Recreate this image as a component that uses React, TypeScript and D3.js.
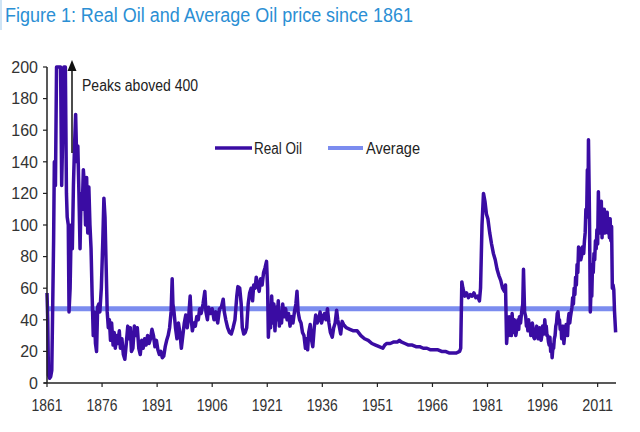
import React from "react";
import * as d3 from "d3";

const years: number[] = [
  1861.0, 1861.2, 1861.4, 1861.7, 1862.0, 1862.3, 1862.5, 1862.8, 1863.0, 1863.3, 1863.6, 1863.9,
  1864.3, 1864.7, 1865.0, 1865.3, 1865.6, 1866.0, 1866.3, 1866.5, 1866.8, 1867.0, 1867.3, 1867.6,
  1867.9, 1868.2, 1868.5, 1868.8, 1869.1, 1869.4, 1869.7, 1870.0, 1870.3, 1870.6, 1870.9, 1871.2,
  1871.5, 1871.8, 1872.1, 1872.4, 1872.7, 1873.0, 1873.3, 1873.6, 1873.9, 1874.2, 1874.5, 1874.8,
  1875.1, 1875.4, 1875.8, 1876.2, 1876.5, 1876.8, 1877.1, 1877.4, 1877.7, 1878.0, 1878.3, 1878.6,
  1879.0, 1879.3, 1879.6, 1880.0, 1880.3, 1880.7, 1881.0, 1881.4, 1881.8, 1882.2, 1882.6, 1883.0,
  1883.3, 1883.7, 1884.0, 1884.4, 1884.8, 1885.2, 1885.6, 1886.0, 1886.4, 1886.8, 1887.2, 1887.6,
  1888.0, 1888.4, 1888.8, 1889.2, 1889.6, 1890.0, 1890.4, 1890.8, 1891.2, 1891.6, 1892.0, 1892.4,
  1892.8, 1893.2, 1893.6, 1894.0, 1894.4, 1894.8, 1895.1, 1895.3, 1895.6, 1896.0, 1896.4, 1896.8,
  1897.2, 1897.6, 1898.0, 1898.4, 1898.8, 1899.2, 1899.6, 1900.0, 1900.3, 1900.6, 1901.0, 1901.4,
  1901.8, 1902.2, 1902.6, 1903.0, 1903.5, 1904.0, 1904.3, 1904.7, 1905.0, 1905.5, 1906.0, 1906.5,
  1907.0, 1907.5, 1908.0, 1908.5, 1909.0, 1909.3, 1909.7, 1910.2, 1910.7, 1911.2, 1911.7, 1912.2,
  1912.7, 1913.0, 1913.5, 1913.9, 1914.2, 1914.6, 1915.0, 1915.4, 1915.8, 1916.2, 1916.6, 1917.0,
  1917.3, 1917.7, 1918.0, 1918.4, 1918.8, 1919.2, 1919.6, 1920.0, 1920.4, 1920.8, 1921.1, 1921.3,
  1921.6, 1921.9, 1922.2, 1922.5, 1922.8, 1923.1, 1923.4, 1923.7, 1924.0, 1924.3, 1924.6, 1924.9,
  1925.2, 1925.6, 1926.0, 1926.4, 1926.8, 1927.2, 1927.6, 1928.0, 1928.4, 1928.8, 1929.1, 1929.4,
  1929.8, 1930.2, 1930.6, 1931.0, 1931.4, 1931.7, 1932.0, 1932.3, 1932.7, 1933.0, 1933.4, 1933.8,
  1934.2, 1934.6, 1935.0, 1935.4, 1935.8, 1936.2, 1936.6, 1937.0, 1937.4, 1937.8, 1938.2, 1938.7,
  1939.1, 1939.5, 1939.9, 1940.2, 1940.6, 1941.0, 1941.4, 1941.8, 1942.5, 1943.5, 1944.5, 1945.5,
  1946.5, 1947.5, 1948.5, 1949.5, 1950.5, 1951.5, 1952.5, 1953.0, 1953.5, 1954.5, 1955.5, 1956.5,
  1957.0, 1957.5, 1958.5, 1959.5, 1960.5, 1961.5, 1962.5, 1963.5, 1964.5, 1965.5, 1966.5, 1967.5,
  1968.5, 1969.5, 1970.5, 1971.5, 1972.5, 1973.4, 1973.7, 1974.0, 1974.3, 1974.8, 1975.3, 1975.8,
  1976.3, 1976.8, 1977.3, 1977.8, 1978.3, 1978.8, 1979.1, 1979.5, 1979.9, 1980.3, 1980.7, 1981.1,
  1981.6, 1982.1, 1982.6, 1983.1, 1983.6, 1984.1, 1984.6, 1985.1, 1985.6, 1985.9, 1986.2, 1986.5,
  1986.7, 1986.9, 1987.1, 1987.3, 1987.5, 1987.7, 1987.9, 1988.1, 1988.3, 1988.5, 1988.7, 1988.9,
  1989.1, 1989.3, 1989.5, 1989.7, 1990.0, 1990.3, 1990.6, 1990.8, 1991.1, 1991.4, 1991.6, 1991.8,
  1992.0, 1992.2, 1992.4, 1992.6, 1992.8, 1993.0, 1993.2, 1993.4, 1993.6, 1993.8, 1994.0, 1994.2,
  1994.4, 1994.6, 1994.8, 1995.0, 1995.2, 1995.4, 1995.6, 1995.8, 1996.0, 1996.2, 1996.4, 1996.6,
  1996.8, 1997.0, 1997.2, 1997.4, 1997.6, 1997.8, 1998.0, 1998.2, 1998.4, 1998.6, 1998.8, 1999.0,
  1999.2, 1999.4, 1999.6, 1999.8, 2000.0, 2000.2, 2000.4, 2000.6, 2000.8, 2001.0, 2001.2, 2001.4,
  2001.6, 2001.8, 2002.0, 2002.2, 2002.4, 2002.6, 2002.8, 2003.0, 2003.2, 2003.4, 2003.6, 2003.8,
  2004.0, 2004.2, 2004.4, 2004.6, 2004.8, 2005.0, 2005.2, 2005.4, 2005.6, 2005.8, 2006.0, 2006.2,
  2006.4, 2006.6, 2006.8, 2007.0, 2007.2, 2007.4, 2007.6, 2007.8, 2008.0, 2008.2, 2008.4, 2008.5,
  2008.7, 2008.8, 2009.0, 2009.2, 2009.4, 2009.6, 2009.8, 2010.0, 2010.2, 2010.4, 2010.6, 2010.8,
  2011.0, 2011.2, 2011.4, 2011.6, 2011.8, 2012.0, 2012.2, 2012.4, 2012.6, 2012.8, 2013.0, 2013.2,
  2013.4, 2013.6, 2013.8, 2014.0, 2014.2, 2014.4, 2014.6, 2014.8, 2015.0, 2015.2, 2015.4, 2015.6,
  2015.9,
];

const realOil: number[] = [
  57, 40, 5, 3, 4, 8, 40, 90, 140, 125, 210, 420,
  460, 300, 125, 160, 380, 430, 120, 105, 100, 45, 60, 100,
  85, 125, 150, 170, 140, 150, 120, 85, 120, 110, 135, 125,
  100, 130, 95, 124, 100, 85, 55, 30, 45, 25, 20, 48,
  50, 45, 60, 90, 117, 105, 75, 45, 35, 40, 27, 38,
  24, 32, 22, 30, 25, 33, 22, 28, 18, 15, 25, 36,
  28, 35, 20, 22, 36, 30, 35, 22, 18, 27, 22, 28,
  24, 30, 25, 28, 34, 30, 23, 27, 21, 18, 20, 16,
  17, 23, 27, 30, 35, 45, 66, 50, 45, 35, 28, 38,
  32, 22, 30, 38, 43, 35, 42, 55, 40, 33, 38, 36,
  42, 40, 47, 44, 50, 58, 45, 40, 48, 44, 47, 40,
  45, 38, 47, 48, 53, 45, 40, 35, 32, 31, 35, 40,
  55, 61, 60, 50, 35, 31, 32, 35, 50, 57, 60, 52,
  62, 60, 67, 62, 58, 66, 62, 70, 73, 77, 60, 29,
  45, 35, 55, 38, 50, 33, 48, 40, 52, 36, 45, 38,
  50, 42, 47, 40, 44, 36, 42, 38, 45, 50, 58, 45,
  40, 38, 32, 30, 22, 28, 21, 32, 37, 28, 23, 35,
  43, 38, 40, 45, 38, 42, 44, 40, 47, 38, 32, 29,
  35, 38, 46, 40, 36, 31, 39, 37, 35, 34, 33, 33,
  30, 28, 27, 25, 24, 23, 22, 24, 25, 25, 26, 26,
  27, 26, 25, 24, 24, 23, 23, 22, 22, 21, 21, 21,
  20, 20, 19, 19, 19, 20, 22, 64, 60, 55, 57, 54,
  56, 55, 57, 54, 55, 52, 60, 100, 120, 115, 107, 104,
  95, 88, 82, 78, 72, 68, 65, 60, 58, 62, 25, 35,
  30, 42, 34, 38, 30, 44, 36, 32, 40, 36, 30, 33,
  38, 40, 34, 42, 38, 45, 50, 72, 45, 42, 36, 38,
  33, 40, 34, 36, 30, 33, 38, 35, 29, 28, 33, 30,
  36, 33, 28, 30, 35, 32, 27, 30, 36, 35, 31, 40,
  34, 36, 30, 30, 26, 24, 29, 20, 24, 16, 22, 22,
  28, 30, 36, 38, 44, 45, 39, 40, 34, 36, 28, 30,
  36, 25, 30, 32, 37, 35, 30, 40, 44, 38, 42, 45,
  48, 54, 50, 60, 56, 67, 62, 75, 70, 86, 80, 85,
  78, 80, 86, 86, 82, 90, 95, 110, 105, 135, 120, 154,
  120, 100, 45, 60, 55, 75, 70, 82, 78, 90, 85, 97,
  88, 121, 95, 105, 98, 115, 92, 110, 100, 110, 95, 108,
  102, 108, 95, 104, 92, 104, 90, 99, 60, 62, 59, 45,
  32,
];

const averageOil = 47;
const yTicks: number[] = [0, 20, 40, 60, 80, 100, 120, 140, 160, 180, 200];
const xTicks: number[] = [1861, 1876, 1891, 1906, 1921, 1936, 1951, 1966, 1981, 1996, 2011];
const titleText = "Figure 1: Real Oil and Average Oil price since 1861";
const annotationText = "Peaks aboved 400";
const seriesNames: string[] = ["Real Oil", "Average"];

const W = 640;
const H = 432;
const FONT = "'Liberation Sans Narrow', 'Arial Narrow', 'Liberation Sans', Arial, sans-serif";

export default function App() {
  const x = d3.scaleLinear().domain([1861, 2016]).range([47, 616]);
  const y = d3.scaleLinear().domain([0, 200]).range([383, 67]).clamp(true);

  const pts = years.map((yr, i) => [yr, realOil[i]] as [number, number]);
  const line = d3
    .line<[number, number]>()
    .x((d) => x(d[0]))
    .y((d) => y(d[1]));

  const oilColor = "#3a0ca3";
  const avgColor = "#7b8cef";
  const axisColor = "#222";
  const textColor = "#333";

  return (
    <svg
      width={W}
      height={H}
      style={{ position: "fixed", left: 0, top: 0, background: "#fff" }}
      fontFamily={FONT}
    >
      <rect x={0} y={0} width={W} height={H} fill="#fff" />
      <rect x={0} y={0} width={2} height={30} fill="#cfe4f5" />
      <text
        x={5}
        y={22}
        fontSize={20}
        fill="#2b8fd4"
        textLength={408}
        lengthAdjust="spacingAndGlyphs"
      >
        {titleText}
      </text>

      {/* average line */}
      <line
        x1={x(1861)}
        x2={x(2016)}
        y1={y(averageOil)}
        y2={y(averageOil)}
        stroke={avgColor}
        strokeWidth={5}
      />

      {/* real oil */}
      <path
        d={line(pts) || ""}
        fill="none"
        stroke={oilColor}
        strokeWidth={3.5}
        strokeLinejoin="round"
      />

      {/* y axis */}
      <line x1={x(1861)} x2={x(1861)} y1={y(0)} y2={y(200)} stroke={axisColor} strokeWidth={1.5} />
      {yTicks.map((t) => (
        <g key={"y" + t}>
          <line x1={x(1861) - 4} x2={x(1861)} y1={y(t)} y2={y(t)} stroke={axisColor} strokeWidth={1.2} />
          <text
            x={38}
            y={y(t)}
            dy="0.36em"
            textAnchor="end"
            fontSize={16}
            fill={textColor}
          >
            {t}
          </text>
        </g>
      ))}

      {/* x axis */}
      <line x1={x(1861) - 3} x2={x(2016)} y1={y(0)} y2={y(0)} stroke={axisColor} strokeWidth={1.5} />
      {xTicks.map((t) => (
        <g key={"x" + t}>
          <line x1={x(t)} x2={x(t)} y1={y(0)} y2={y(0) + 4} stroke={axisColor} strokeWidth={1.2} />
          <text
            x={x(t)}
            y={411}
            textAnchor="middle"
            fontSize={16}
            fill={textColor}
            textLength={31}
            lengthAdjust="spacingAndGlyphs"
          >
            {t}
          </text>
        </g>
      ))}

      {/* annotation */}
      <line x1={72} x2={72} y1={153} y2={68} stroke="#111" strokeWidth={1.5} />
      <path d="M72,60 L67.5,71 L76.5,71 Z" fill="#111" />
      <text x={82} y={91} fontSize={16} fill="#222" textLength={116} lengthAdjust="spacingAndGlyphs">
        {annotationText}
      </text>

      {/* legend */}
      <line x1={215} x2={252} y1={148} y2={148} stroke={oilColor} strokeWidth={3.5} />
      <text x={254} y={148} dy="0.36em" fontSize={16} fill="#222" textLength={48} lengthAdjust="spacingAndGlyphs">
        {seriesNames[0]}
      </text>
      <line x1={328} x2={363} y1={148} y2={148} stroke={avgColor} strokeWidth={4} />
      <text x={366} y={148} dy="0.36em" fontSize={16} fill="#222" textLength={54} lengthAdjust="spacingAndGlyphs">
        {seriesNames[1]}
      </text>
    </svg>
  );
}
